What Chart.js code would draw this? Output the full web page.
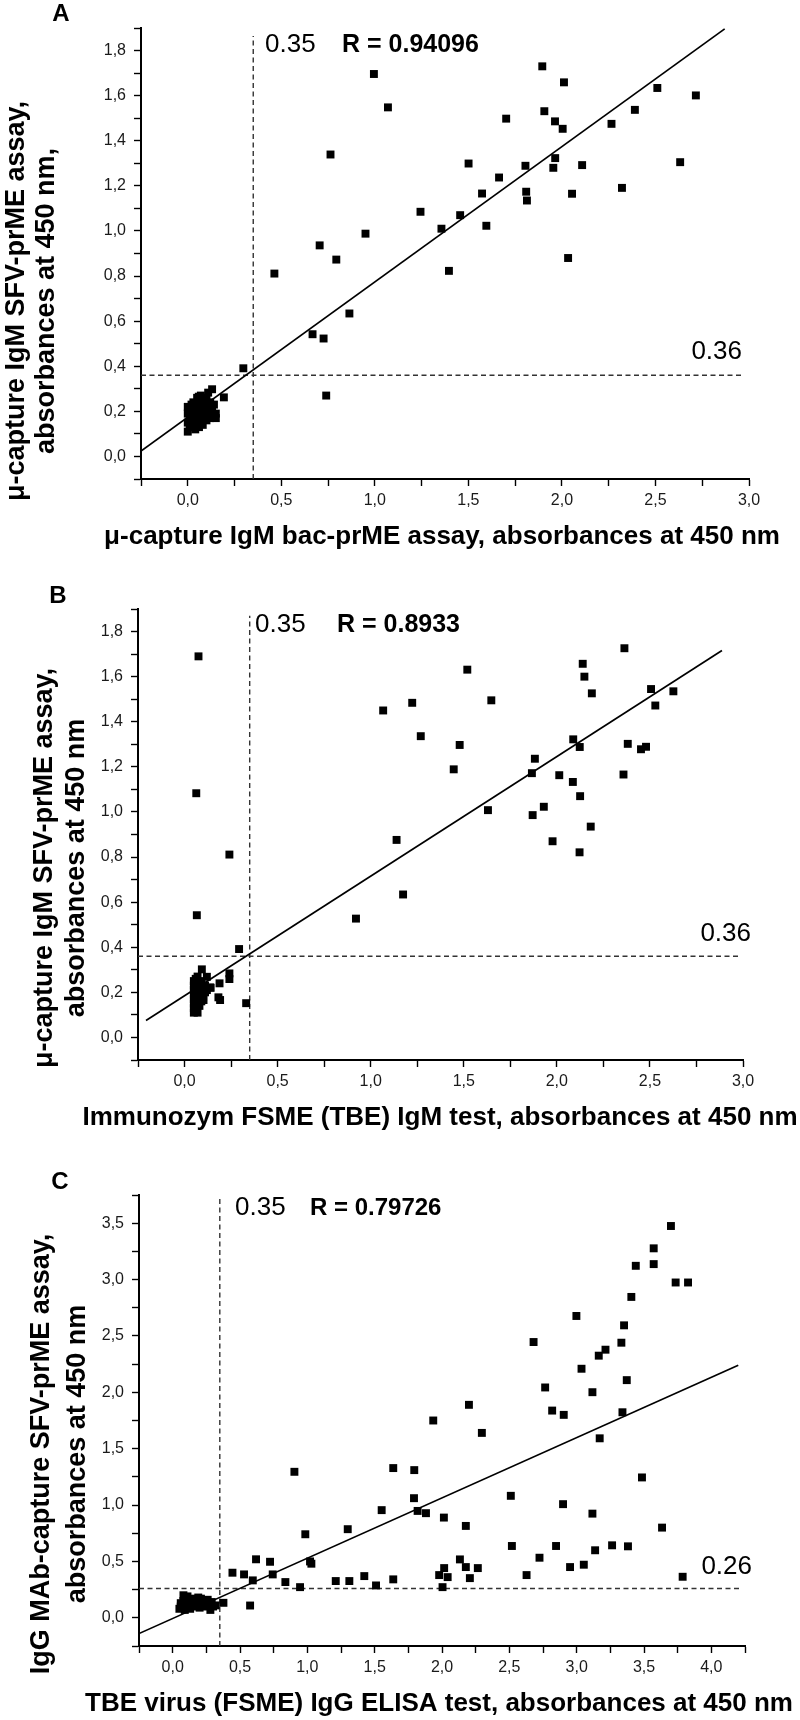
<!DOCTYPE html>
<html>
<head>
<meta charset="utf-8">
<title>Scatter comparisons A, B, C</title>
<script src="https://cdn.jsdelivr.net/npm/chart.js@4.4.1/dist/chart.umd.min.js"></script>
<style>
  html, body { margin: 0; padding: 0; background: #ffffff; }
  #page { position: relative; width: 800px; height: 1720px; overflow: hidden; background:#fff; }
  canvas { position: absolute; left: 0; display: block; }
</style>
</head>
<body>
<div id="page">
  <canvas id="chartA" width="800" height="575" style="top:0px"></canvas>
  <canvas id="chartB" width="800" height="570" style="top:575px"></canvas>
  <canvas id="chartC" width="800" height="575" style="top:1145px"></canvas>
</div>
<script>
const FONT = '"Liberation Sans", Arial, Helvetica, sans-serif';

/* ---------------- Panel A data ---------------- */
const aX = [0.297,0.463,0.705,0.763,0.794,0.950,0.995,1.070,0.667,0.726,0.864,0.740,
  1.895,2.011,2.510,2.716,1.702,1.906,1.963,2.004,2.390,2.265,1.501,1.805,1.964,1.954,2.108,2.632,
  1.664,1.573,1.809,1.813,2.054,2.321,1.244,1.456,1.356,1.596,1.396,2.033,
  0.130,0.109,0.193,0.059,
  0.00,0.01,0.00,0.01,0.00,0.01,0.00,0.02,0.02,0.02,0.03,0.03,0.03,0.04,0.04,0.04,0.05,0.05,0.05,
  0.06,0.06,0.06,0.07,0.07,0.07,0.08,0.08,0.08,0.09,0.09,0.10,0.10,0.10,0.11,0.11,0.12,0.12,0.13,
  0.13,0.14,0.14,0.15,0.15];
const aY = [0.391,0.811,0.936,1.339,0.873,0.988,1.696,1.548,0.542,0.523,0.634,0.270,
  1.730,1.659,1.634,1.601,1.498,1.531,1.486,1.453,1.537,1.475,1.299,1.289,1.323,1.280,1.292,1.305,
  1.237,1.166,1.174,1.135,1.165,1.191,1.085,1.070,1.010,1.023,0.823,0.880,
  0.298,0.283,0.262,0.265,
  0.11,0.13,0.15,0.17,0.19,0.21,0.22,0.23,0.14,0.18,0.20,0.16,0.24,0.12,0.19,0.22,0.26,0.15,0.17,
  0.21,0.24,0.13,0.19,0.27,0.16,0.22,0.25,0.14,0.18,0.20,0.23,0.16,0.26,0.19,0.21,0.24,0.17,0.20,
  0.22,0.18,0.23,0.19,0.17];
const aFitX = [-0.25, 2.87];
const aFitY = [0.024, 1.896];
const aCutX = 0.35, aCutY = 0.36;
const aVLineY = [-0.1, 1.865];
const aHLineX = [-0.25, 2.975];

/* ---------------- Panel B data ---------------- */
const bX = [0.075,0.063,0.241,0.066,1.067,1.139,0.921,
  2.363,2.139,2.148,2.188,1.519,1.223,1.648,1.269,1.478,1.446,2.506,2.626,2.529,2.088,2.123,2.381,
  2.452,2.479,1.882,1.866,2.013,2.086,2.358,2.125,1.630,1.930,1.870,2.182,1.977,2.122,1.174,
  0.293,0.331,0.093,0.120,0.241,0.241,0.188,0.138,0.182,0.191,0.102,
  0.05,0.05,0.05,0.05,0.05,0.05,0.05,0.05,0.06,0.06,0.06,0.06,0.06,0.06,0.06,0.06,0.07,0.07,0.07,
  0.07,0.07,0.08,0.08,0.08,0.08,0.09,0.09,0.09,0.10,0.10,0.11,0.11,0.12,0.14,0.09];
const bY = [1.690,1.083,0.811,0.542,1.450,0.876,0.527,
  1.726,1.657,1.600,1.526,1.631,1.484,1.495,1.336,1.297,1.189,1.545,1.535,1.472,1.322,1.288,1.302,
  1.278,1.289,1.236,1.172,1.163,1.133,1.166,1.070,1.008,1.023,0.986,0.935,0.870,0.821,0.634,
  0.392,0.152,0.302,0.269,0.284,0.259,0.240,0.222,0.178,0.166,0.166,
  0.11,0.13,0.15,0.17,0.19,0.21,0.23,0.25,0.12,0.14,0.16,0.18,0.20,0.22,0.24,0.26,0.11,0.15,0.19,
  0.23,0.27,0.14,0.17,0.20,0.24,0.16,0.19,0.22,0.18,0.21,0.20,0.23,0.21,0.22,0.25];
const bFitX = [-0.207, 2.887];
const bFitY = [0.075, 1.716];
const bCutX = 0.35, bCutY = 0.36;
const bVLineY = [-0.1, 1.87];
const bHLineX = [-0.25, 2.98];

/* ---------------- Panel C data ---------------- */
const cX = [3.700,3.572,3.572,3.439,3.735,3.827,3.406,2.998,3.352,3.332,3.214,3.164,2.680,3.036,2.766,
  3.372,3.117,2.200,1.935,2.818,2.904,3.340,
  2.296,3.171,1.794,3.485,1.792,2.511,1.819,1.881,2.899,2.014,3.117,2.177,3.634,2.519,2.847,3.263,
  3.381,3.137,2.724,2.133,2.177,2.266,2.016,2.951,3.053,1.979,2.042,2.207,2.628,3.787,2.004,
  0.904,1.638,1.552,1.300,0.985,1.020,1.030,0.444,0.530,0.619,0.723,0.743,0.595,0.837,0.946,0.575,
  1.211,1.312,1.423,1.510,1.638,0.377,
  0.05,0.06,0.07,0.08,0.08,0.09,0.09,0.10,0.10,0.11,0.11,0.12,0.13,0.13,0.14,0.15,0.16,0.17,0.18,
  0.19,0.20,0.20,0.21,0.22,0.23,0.24,0.25,0.26,0.27,0.28,0.29,0.30,0.32,0.06,0.15,0.07];
const cY = [3.475,3.277,3.137,3.122,2.974,2.974,2.846,2.677,2.594,2.440,2.378,2.325,2.446,2.209,2.043,
  2.108,2.001,1.889,1.750,1.838,1.800,1.823,
  1.640,1.592,1.310,1.245,1.061,1.082,0.948,0.928,1.008,0.889,0.924,0.815,0.800,0.637,0.637,0.643,
  0.634,0.599,0.533,0.518,0.450,0.441,0.441,0.450,0.471,0.379,0.361,0.352,0.379,0.364,0.272,
  1.295,1.328,0.955,0.786,0.741,0.500,0.480,0.400,0.385,0.519,0.497,0.385,0.332,0.317,0.272,0.109,
  0.326,0.326,0.370,0.287,0.341,0.133,
  0.08,0.10,0.12,0.15,0.20,0.07,0.17,0.11,0.14,0.09,0.19,0.12,0.08,0.15,0.11,0.13,0.10,0.16,0.12,
  0.18,0.09,0.14,0.17,0.11,0.15,0.13,0.10,0.16,0.12,0.07,0.14,0.10,0.11,0.13,0.17,0.09];
const cFitX = [-0.25, 4.2];
const cFitY = [-0.14, 2.24];
const cCutX = 0.35, cCutY = 0.26;
const cVLineY = [-0.25, 3.72];
const cHLineX = [-0.25, 4.21];

/* ---------------- helpers ---------------- */
function pts(xs, ys) { return xs.map((x, i) => ({ x: x, y: ys[i] })); }

function axis(min, max, step, labelStep, size, horizontal) {
  return {
    type: 'linear', min: min, max: max,
    ticks: {
      stepSize: step, autoSkip: false, maxRotation: 0, minRotation: 0,
      padding: horizontal ? 5 : 8, color: '#1a1a1a',
      font: { family: FONT, size: 16 },
      callback: function (v) {
        const k = v / labelStep;
        if (v > -1e-9 && Math.abs(k - Math.round(k)) < 1e-6) return v.toFixed(1).replace('.', ',');
        return '';
      }
    },
    grid: { display: true, drawOnChartArea: false, drawTicks: true, tickLength: 7, tickWidth: 1.4, tickColor: '#000' },
    border: { display: true, color: '#000', width: 2 },
    afterFit: function (s) { if (horizontal) s.height = size; else s.width = size; }
  };
}

const annotate = {
  id: 'annotate',
  afterDraw(chart, args, o) {
    const ctx = chart.ctx;
    ctx.save();
    ctx.fillStyle = '#000';
    ctx.textBaseline = 'middle';
    const put = (txt, p, font, align) => { ctx.font = font + ' ' + FONT; ctx.textAlign = align; ctx.fillText(txt, p[0], p[1]); };
    put(o.letter, o.letterPos, 'bold 24px', 'center');
    put(o.cutXText, o.cutXPos, o.cutFont, 'left');
    put(o.rText, o.rPos, o.rFont, 'left');
    put(o.cutYText, o.cutYPos, o.cutFont, 'right');
    put(o.xTitle, o.xTitlePos, o.xTitleFont, 'center');
    for (let i = 0; i < o.yTitle.length; i++) {
      ctx.save();
      ctx.translate(o.yTitleX[i], o.yTitleY);
      ctx.rotate(-Math.PI / 2);
      ctx.font = o.yTitleFont + ' ' + FONT;
      ctx.textAlign = 'center';
      ctx.fillText(o.yTitle[i], 0, 0);
      ctx.restore();
    }
    ctx.restore();
  }
};

function panel(id, d) {
  const dash = { showLine: true, borderColor: '#333', borderWidth: 1.4, borderDash: [5, 3.5], pointRadius: 0, fill: false };
  return new Chart(document.getElementById(id), {
    type: 'scatter',
    data: {
      datasets: [
        { label: 'samples', data: pts(d.xs, d.ys), pointStyle: 'rect', pointRadius: 5.6, pointHoverRadius: 5.6,
          backgroundColor: '#000', borderWidth: 0 },
        { label: 'regression', data: pts(d.fitX, d.fitY), showLine: true, borderColor: '#000', borderWidth: 1.7,
          pointRadius: 0, fill: false },
        Object.assign({ label: 'cut-off x', data: pts([d.cutX, d.cutX], d.vLineY) }, dash),
        Object.assign({ label: 'cut-off y', data: pts(d.hLineX, [d.cutY, d.cutY]) }, dash)
      ]
    },
    options: {
      responsive: false, animation: false, events: [],
      layout: { padding: d.padding },
      plugins: { legend: { display: false }, tooltip: { enabled: false }, annotate: d.text },
      scales: {
        x: axis(d.xMin, d.xMax, d.xStep, d.xLabelStep, d.xAxisH, true),
        y: axis(d.yMin, d.yMax, d.yStep, d.yLabelStep, d.yAxisW, false)
      }
    },
    plugins: [annotate]
  });
}

panel('chartA', {
  xs: aX, ys: aY, fitX: aFitX, fitY: aFitY, cutX: aCutX, cutY: aCutY, vLineY: aVLineY, hLineX: aHLineX,
  xMin: -0.25, xMax: 3.0, xStep: 0.25, xLabelStep: 0.5, yMin: -0.1, yMax: 1.9, yStep: 0.1, yLabelStep: 0.2,
  padding: { left: 0, right: 51, top: 28, bottom: 0 }, yAxisW: 141, xAxisH: 96,
  text: {
    letter: 'A', letterPos: [61, 14],
    cutXText: '0.35', cutXPos: [265, 45], cutFont: '26px',
    rText: 'R = 0.94096', rPos: [342, 45], rFont: 'bold 25px',
    cutYText: '0.36', cutYPos: [742, 352],
    xTitle: '\u03bc-capture IgM bac-prME assay, absorbances at 450 nm', xTitlePos: [442, 537], xTitleFont: 'bold 26px',
    yTitle: ['\u03bc-capture IgM SFV-prME assay,', 'absorbances at 450 nm,'], yTitleX: [17, 47], yTitleY: 301,
    yTitleFont: 'bold 27px'
  }
});

panel('chartB', {
  xs: bX, ys: bY, fitX: bFitX, fitY: bFitY, cutX: bCutX, cutY: bCutY, vLineY: bVLineY, hLineX: bHLineX,
  xMin: -0.25, xMax: 3.0, xStep: 0.25, xLabelStep: 0.5, yMin: -0.1, yMax: 1.9, yStep: 0.1, yLabelStep: 0.2,
  padding: { left: 0, right: 57, top: 34, bottom: 0 }, yAxisW: 138, xAxisH: 85,
  text: {
    letter: 'B', letterPos: [58, 21],
    cutXText: '0.35', cutXPos: [255, 50], cutFont: '26px',
    rText: 'R = 0.8933', rPos: [337, 50], rFont: 'bold 25px',
    cutYText: '0.36', cutYPos: [751, 359],
    xTitle: 'Immunozym FSME (TBE) IgM test, absorbances at 450 nm', xTitlePos: [440, 543], xTitleFont: 'bold 26px',
    yTitle: ['\u03bc-capture IgM SFV-prME assay,', 'absorbances at 450 nm'], yTitleX: [45, 77], yTitleY: 293,
    yTitleFont: 'bold 27px'
  }
});

panel('chartC', {
  xs: cX, ys: cY, fitX: cFitX, fitY: cFitY, cutX: cCutX, cutY: cCutY, vLineY: cVLineY, hLineX: cHLineX,
  xMin: -0.25, xMax: 4.25, xStep: 0.25, xLabelStep: 0.5, yMin: -0.25, yMax: 3.75, yStep: 0.25, yLabelStep: 0.5,
  padding: { left: 0, right: 55, top: 50, bottom: 0 }, yAxisW: 139, xAxisH: 74,
  text: {
    letter: 'C', letterPos: [60, 37],
    cutXText: '0.35', cutXPos: [235, 63], cutFont: '26px',
    rText: 'R = 0.79726', rPos: [310, 63], rFont: 'bold 24px',
    cutYText: '0.26', cutYPos: [752, 422],
    xTitle: 'TBE virus (FSME) IgG ELISA test, absorbances at 450 nm', xTitlePos: [439, 559], xTitleFont: 'bold 26px',
    yTitle: ['IgG MAb-capture SFV-prME assay,', 'absorbances at 450 nm'], yTitleX: [42, 78], yTitleY: 309,
    yTitleFont: 'bold 27px'
  }
});
</script>
</body>
</html>
